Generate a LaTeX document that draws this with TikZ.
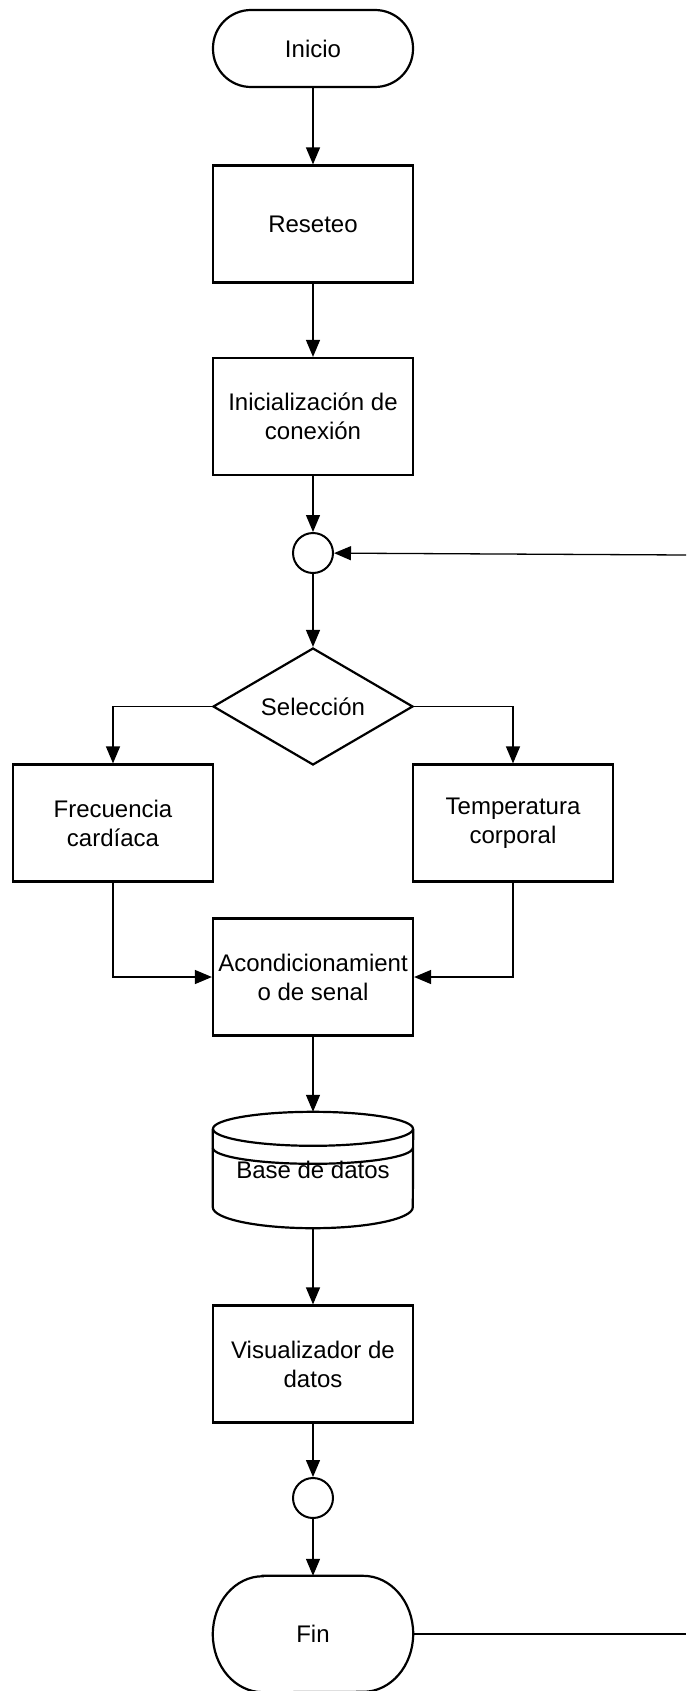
\documentclass[tikz,border=0pt]{standalone}
\usepackage{fontspec}
\setmainfont{Liberation Sans}
\usetikzlibrary{arrows.meta, positioning, shapes.geometric}
\tikzset{%
	block/.style={
		rectangle,
		draw,
		line width=2.2pt,
		minimum width=200pt,
		minimum height=117pt,
		inner sep=2pt,
		align=center
	},
	terminal/.style={
		rectangle,
		draw,
		line width=2.2pt,
		minimum width=200pt
	},
	junction/.style={
		circle,
		draw,
		line width=2pt,
		minimum size=40pt,
		inner sep=0pt
	},
	flow/.style={
		line width=1.3pt,
		-{Triangle[length=17pt, width=14pt]}
	},
}

\begin{document}
\begin{tikzpicture}[
				x=1pt, y=1pt,
				font=\fontsize{24}{29}\selectfont,
				decision/.style={diamond, draw, line width=2.2pt, aspect=2,
					minimum width=200pt, minimum height=117pt, inner sep=0pt}
				]
				\useasboundingbox (0,0) rectangle (686,-1691);
				% main column
				\node[terminal, minimum height=77pt, rounded corners=38pt] (inicio) at (313,-48.5) {Inicio};
				\node[block] (reseteo) at (313,-224) {Reseteo};
				\node[block] (conexion) at (313,-416.5) {Inicialización de\\conexión};
				\node[junction] (nodo1) at (313,-553) {};
				\node[decision] (seleccion) at (313,-706.5) {Selección};
				\node[block] (frecuencia) at (113,-823) {Frecuencia\\cardíaca};
				\node[block] (temperatura) at (513,-823) {Temperatura\\corporal};
				\node[block] (acond) at (313,-977) {Acondicionamient\\o de senal};
				\node[minimum width=200pt, minimum height=116pt, inner sep=0pt] (datos) at (313,-1170) {Base de datos};
				\node[block] (visual) at (313,-1364) {Visualizador de\\datos};
				\node[junction] (nodo2) at (313,-1498) {};
				\node[minimum width=200pt, minimum height=116pt, inner sep=0pt] (fin) at (313,-1634) {Fin};
				% loop ends
				\coordinate (retorno) at (686,-555);
				\coordinate (salida) at (686,-1634);

				% database outline
				\draw[line width=2.2pt] ([yshift=-17pt]datos.north west) -- ([yshift=21pt]datos.south west)
					arc[start angle=180, end angle=360, x radius=100pt, y radius=21pt]
					-- ([yshift=-17pt]datos.north east);
				\draw[line width=2.2pt] ([yshift=-17pt]datos.north) ellipse[x radius=100pt, y radius=17pt];
				\draw[line width=2.2pt] ([yshift=-36pt]datos.north west)
					arc[start angle=180, end angle=360, x radius=100pt, y radius=16pt];
				% end terminal outline
				\draw[line width=2.2pt] ([xshift=50pt]fin.north west) -- ([xshift=-50pt]fin.north east)
					arc[start angle=90, end angle=-90, x radius=50pt, y radius=58pt]
					-- ([xshift=50pt]fin.south west)
					arc[start angle=270, end angle=90, x radius=50pt, y radius=58pt] -- cycle;

				% connectors
				\draw[flow] (inicio) -- (reseteo);
				\draw[flow] (reseteo) -- (conexion);
				\draw[flow] (conexion) -- (nodo1);
				\draw[flow] (retorno) -- (nodo1);
				\draw[flow] (nodo1) -- (seleccion);
				\draw[flow] (seleccion.west) -| (frecuencia.north);
				\draw[flow] (seleccion.east) -| (temperatura.north);
				\draw[flow] (frecuencia.south) |- (acond.west);
				\draw[flow] (temperatura.south) |- (acond.east);
				\draw[flow] (acond) -- (datos.north);
				\draw[flow] (datos.south) -- (visual);
				\draw[flow] (visual) -- (nodo2);
				\draw[flow] (nodo2) -- (fin.north);
				\draw[line width=1.3pt] (fin.east) -- (salida);
			\end{tikzpicture}
\end{document}
